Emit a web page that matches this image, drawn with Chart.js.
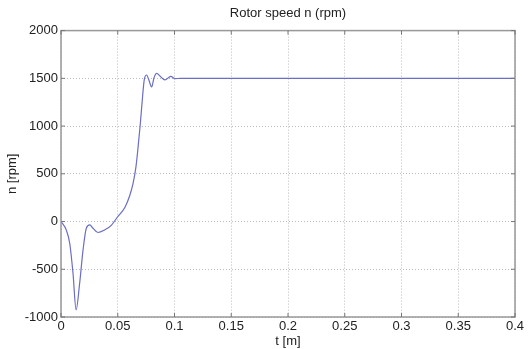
<!DOCTYPE html>
<html>
<head>
<meta charset="utf-8">
<script src="https://cdn.jsdelivr.net/npm/chart.js@4"></script>
<style>
  html, body { margin: 0; padding: 0; background: #fff; }
  #wrap { width: 528px; height: 349px; }
</style>
</head>
<body>
<div id="wrap"><canvas id="myChart" width="528" height="349"></canvas></div>
<script>
// time [s] and rotor speed [rpm]
var timeValues = [0, 0.0047, 0.0077, 0.0106, 0.0133, 0.0164, 0.0194, 0.0223, 0.0253, 0.0282, 0.0326,
  0.0385, 0.0443, 0.0496, 0.0564, 0.0605, 0.0635, 0.066, 0.068, 0.07, 0.0718, 0.0734, 0.0755, 0.0772,
  0.0799, 0.0819, 0.0843, 0.0872, 0.0916, 0.0967, 0.1004, 0.105, 0.2, 0.3, 0.4];
var speedValues = [0, -90, -230, -545, -925, -650, -300, -70, -35, -70, -115,
  -88, -40, 45, 150, 270, 400, 570, 790, 1040, 1300, 1490, 1535, 1490,
  1410, 1505, 1552, 1524, 1483, 1521, 1497, 1500, 1500, 1500, 1500];
var xTicks = [0, 0.05, 0.1, 0.15, 0.2, 0.25, 0.3, 0.35, 0.4];
var yTicks = [-1000, -500, 0, 500, 1000, 1500, 2000];

var font = { family: 'Liberation Sans, Arial, sans-serif', size: 13 };

// frame and inward tick marks, matlab style
var framePlugin = {
  id: 'frame',
  afterDraw: function (chart) {
    var ctx = chart.ctx, a = chart.chartArea;
    ctx.save();
    ctx.strokeStyle = '#999';
    ctx.lineWidth = 1.5;
    ctx.strokeRect(a.left, a.top, a.right - a.left, a.bottom - a.top);
    ctx.lineWidth = 1;
    ctx.strokeStyle = '#777';
    xTicks.forEach(function (v) {
      var px = chart.scales.x.getPixelForValue(v);
      ctx.beginPath();
      ctx.moveTo(px, a.top); ctx.lineTo(px, a.top + 4);
      ctx.moveTo(px, a.bottom); ctx.lineTo(px, a.bottom - 4);
      ctx.stroke();
    });
    yTicks.forEach(function (v) {
      var py = chart.scales.y.getPixelForValue(v);
      ctx.beginPath();
      ctx.moveTo(a.left, py); ctx.lineTo(a.left + 4, py);
      ctx.moveTo(a.right, py); ctx.lineTo(a.right - 4, py);
      ctx.stroke();
    });
    ctx.restore();
  }
};

var points = timeValues.map(function (t, i) { return { x: t, y: speedValues[i] }; });

var ctx = document.getElementById('myChart').getContext('2d');
var myChart = new Chart(ctx, {
  type: 'line',
  data: {
    datasets: [{
      data: points,
      borderColor: '#6a6ec4',
      borderWidth: 1.2,
      pointRadius: 0,
      cubicInterpolationMode: 'monotone',
      fill: false
    }]
  },
  options: {
    responsive: false,
    animation: false,
    layout: { padding: { left: 0, right: 13, top: 0, bottom: 0 } },
    plugins: {
      legend: { display: false },
      tooltip: { enabled: false },
      title: {
        display: true,
        text: 'Rotor speed n (rpm)',
        color: '#222',
        font: { family: font.family, size: 13, weight: 'normal' },
        fullSize: false,
        padding: { top: 6, bottom: 9 }
      }
    },
    scales: {
      x: {
        type: 'linear',
        min: 0,
        max: 0.4,
        afterBuildTicks: function (scale) {
          scale.ticks = xTicks.map(function (v) { return { value: v }; });
        },
        afterFit: function (scale) {
          scale.height = 32;
          scale.paddingLeft = 0;
          scale.paddingRight = 0;
        },
        ticks: {
          color: '#222',
          font: font,
          padding: 2,
          maxRotation: 0,
          callback: function (v) { return String(Math.round(v * 100) / 100); }
        },
        grid: { color: '#bbb', drawTicks: false },
        border: { display: false, dash: [1, 2] },
        title: { display: true, text: 't [m]', color: '#222', font: font, padding: { top: 0, bottom: 0 } }
      },
      y: {
        min: -1000,
        max: 2000,
        afterBuildTicks: function (scale) {
          scale.ticks = yTicks.map(function (v) { return { value: v }; });
        },
        afterFit: function (scale) {
          scale.width = 61;
        },
        ticks: {
          color: '#222',
          font: font,
          padding: 3,
          callback: function (v) { return String(v); }
        },
        grid: { color: '#bbb', drawTicks: false },
        border: { display: false, dash: [1, 2] },
        title: { display: true, text: 'n [rpm]', color: '#222', font: font, padding: { top: 5, bottom: 0 } }
      }
    }
  },
  plugins: [framePlugin]
});
</script>
</body>
</html>
